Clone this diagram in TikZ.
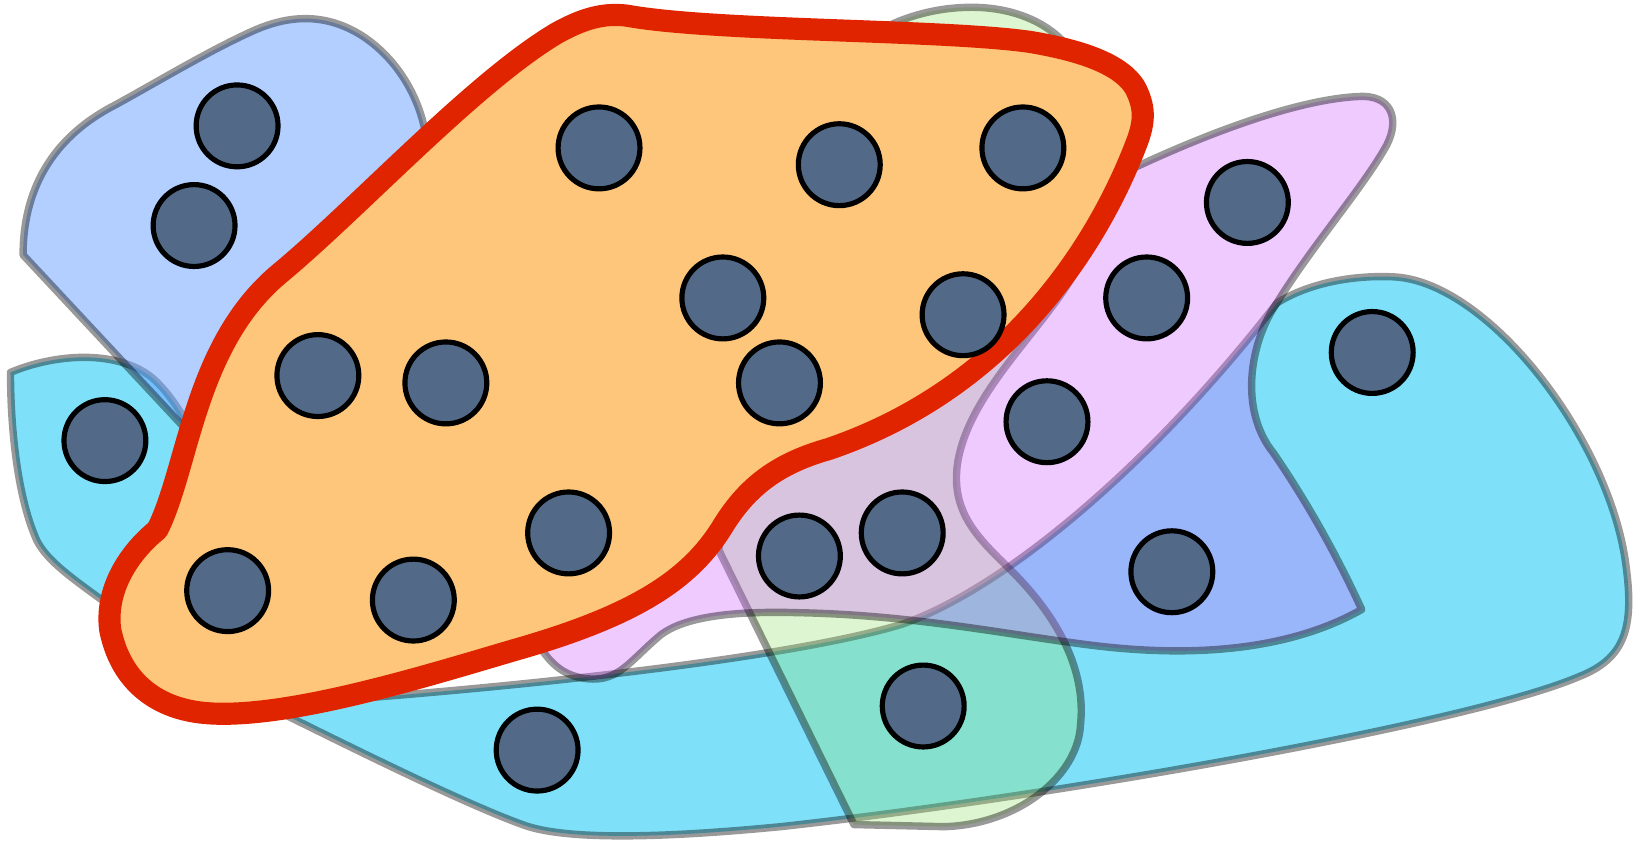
\documentclass[tikz,border=0pt]{standalone}
\usepackage{tikz}

\definecolor{edgeblue}{RGB}{103,161,255}
\definecolor{edgecyan}{HTML}{7FE1F9}
\definecolor{edgepink}{RGB}{209,97,255}
\definecolor{edgegreen}{RGB}{149,222,105}
\definecolor{edgeorange}{HTML}{FDC67A}
\definecolor{edgered}{HTML}{E12400}
\definecolor{vertexfill}{HTML}{526A88}

\begin{document}
\begin{tikzpicture}[
		x=0.01cm, y=-0.01cm,
		vertex/.style={circle, draw=black, line width=1.4pt, fill=vertexfill, minimum size=0.78cm, inner sep=0pt},
		hyperedge/.style={draw=black, draw opacity=0.4, line width=2pt, line join=round},
		mainedge/.style={draw=edgered, fill=edgeorange, line width=6pt, line join=round}
		]
		
		% Canvas
		\useasboundingbox (0,0) rectangle (1568,804);
		\fill[white] (0,0) rectangle (1568,804);
		
		% Draw the long cyan edge
		\path[hyperedge, fill=edgecyan] (10,355)
			.. controls (50,338) and (110,332) .. (145,360)
			.. controls (160,373) and (172,392) .. (182,410)
			-- (330,600) -- (352,665)
			.. controls (540,650) and (760,625) .. (860,595)
			.. controls (960,560) and (1100,440) .. (1217,289)
			.. controls (1250,268) and (1295,262) .. (1330,264)
			.. controls (1420,270) and (1535,420) .. (1550,540)
			.. controls (1558,600) and (1548,628) .. (1505,645)
			.. controls (1400,690) and (1000,760) .. (744,788)
			.. controls (640,798) and (540,802) .. (498,786)
			.. controls (440,765) and (330,710) .. (269,680)
			.. controls (200,645) and (150,615) .. (100,574)
			.. controls (70,552) and (45,535) .. (35,515)
			.. controls (15,470) and (10,400) .. (10,355) -- cycle;
		
		% Draw the blue edge at the top left
		\path[hyperedge, fill=edgeblue, fill opacity=0.5] (22,243) -- (176,408) -- (407,140)
			.. controls (405,105) and (385,60) .. (345,34)
			.. controls (310,12) and (275,14) .. (240,30)
			.. controls (200,48) and (150,78) .. (110,100)
			.. controls (55,128) and (22,175) .. (22,243) -- cycle;
		
		% Draw the green edge
		\path[hyperedge, fill=edgegreen, fill opacity=0.3] (800,60)
			.. controls (830,25) and (880,6) .. (930,7)
			.. controls (975,8) and (1010,28) .. (1025,55)
			-- (1040,200) -- (1030,250)
			.. controls (1000,310) and (925,370) .. (913,440)
			.. controls (905,490) and (935,515) .. (965,545)
			.. controls (1010,590) and (1035,640) .. (1030,690)
			.. controls (1028,740) and (970,786) .. (900,788)
			-- (814,786) -- (685,524) -- (760,100) -- cycle;
		
		% Draw the pink edge
		\path[hyperedge, fill=edgepink, fill opacity=0.33] (1050,175)
			.. controls (1130,135) and (1230,95) .. (1295,92)
			.. controls (1325,90) and (1335,112) .. (1322,138)
			.. controls (1300,178) and (1250,235) .. (1217,289)
			.. controls (1192,325) and (1180,390) .. (1214,432)
			.. controls (1240,470) and (1270,520) .. (1298,581)
			.. controls (1220,625) and (1120,625) .. (1040,615)
			.. controls (960,605) and (870,586) .. (760,584)
			.. controls (690,582) and (650,590) .. (630,605)
			.. controls (600,630) and (590,650) .. (560,647)
			.. controls (540,645) and (525,635) .. (512,612)
			-- cycle;
		
		% Draw the highlighted edge on top
		\path[mainedge] (598,15)
			.. controls (680,30) and (900,28) .. (982,40)
			.. controls (1030,48) and (1075,62) .. (1085,90)
			.. controls (1092,107) and (1090,120) .. (1082,140)
			.. controls (1045,235) and (960,370) .. (790,428)
			.. controls (740,442) and (712,465) .. (690,500)
			.. controls (660,550) and (610,585) .. (496,618)
			.. controls (420,640) and (280,685) .. (200,680)
			.. controls (150,677) and (115,650) .. (105,600)
			.. controls (100,560) and (125,525) .. (150,505)
			.. controls (180,445) and (185,330) .. (265,262)
			.. controls (340,200) and (450,80) .. (530,32)
			.. controls (555,18) and (575,12) .. (598,15) -- cycle;
		
		% Draw the vertices
		\node[vertex] (v1) at (226,120) {};
		\node[vertex] (v2) at (185,215) {};
		\node[vertex] (v3) at (571,141) {};
		\node[vertex] (v4) at (800,157) {};
		\node[vertex] (v5) at (975,141) {};
		\node[vertex] (v6) at (1189,193) {};
		\node[vertex] (v7) at (689,284) {};
		\node[vertex] (v8) at (918,300) {};
		\node[vertex] (v9) at (1093,284) {};
		\node[vertex] (v10) at (1308,336) {};
		\node[vertex] (v11) at (303,358) {};
		\node[vertex] (v12) at (425,365) {};
		\node[vertex] (v13) at (743,365) {};
		\node[vertex] (v14) at (998,402) {};
		\node[vertex] (v15) at (100,420) {};
		\node[vertex] (v16) at (542,508) {};
		\node[vertex] (v17) at (762,530) {};
		\node[vertex] (v18) at (860,508) {};
		\node[vertex] (v19) at (1117,545) {};
		\node[vertex] (v20) at (217,563) {};
		\node[vertex] (v21) at (394,572) {};
		\node[vertex] (v22) at (880,673) {};
		\node[vertex] (v23) at (512,715) {};
		
	\end{tikzpicture}
\end{document}
